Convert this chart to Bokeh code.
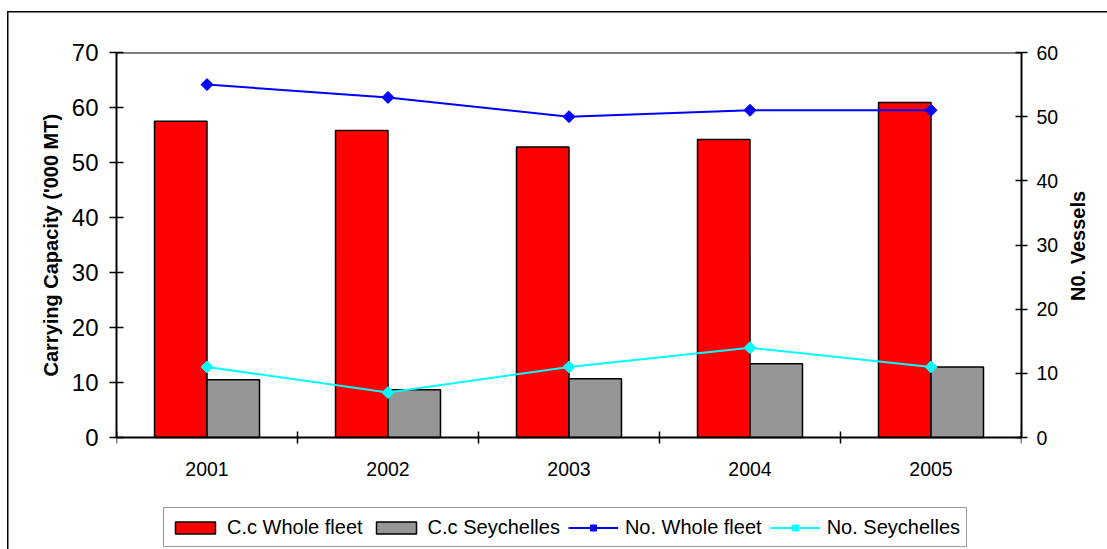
from bokeh.plotting import figure
from bokeh.models import (Range1d, LinearAxis, FixedTicker, Legend, LegendItem,
                          ColumnDataSource, Span, Title)
from bokeh.transform import dodge
from bokeh.embed import file_html
from bokeh.resources import INLINE
import numpy as np

# Fleet data by year
years = [2001, 2002, 2003, 2004, 2005]
cc_whole_fleet = [57.5, 55.8, 52.8, 54.2, 60.9]      # '000 MT
cc_seychelles = [10.5, 8.7, 10.7, 13.4, 12.8]        # '000 MT
no_whole_fleet = [55, 53, 50, 51, 51]                # vessels
no_seychelles = [11, 7, 11, 14, 11]                  # vessels

left_ticks = [0, 10, 20, 30, 40, 50, 60, 70]
right_ticks = [0, 10, 20, 30, 40, 50, 60]

src = ColumnDataSource(dict(year=years, ccw=cc_whole_fleet, ccs=cc_seychelles,
                            now=no_whole_fleet, nos=no_seychelles))

FONT = "Liberation Sans"
BAR_W = 0.29

# The frame runs down to the bottom of the canvas so that the legend can sit
# inside it; the value axes span 385 px from zero to their top tick.
FRAME_W, FRAME_H = 905, 497
AXIS_PX = 385.0
LEFT_TOP, RIGHT_TOP = 70, 60
left_start = LEFT_TOP - LEFT_TOP * FRAME_H / AXIS_PX
right_start = RIGHT_TOP - RIGHT_TOP * FRAME_H / AXIS_PX

p = figure(width=1107, height=549, frame_width=FRAME_W, frame_height=FRAME_H,
           output_backend="svg", toolbar_location=None,
           x_range=Range1d(years[0] - 0.5, years[-1] + 0.5),
           y_range=Range1d(left_start, LEFT_TOP),
           min_border_left=116, min_border_right=86, min_border_top=52,
           min_border_bottom=0)
# Chart area border: thin lines along the left and top edges, painted behind
# a transparent canvas border
p.border_fill_color = None
p.styles = {
    "background-color": "white",
    "background-image": "linear-gradient(#000, #000), linear-gradient(#000, #000)",
    "background-position": "7px 11px, 7px 11px",
    "background-size": "1.5px 100%, 100% 1.5px",
    "background-repeat": "no-repeat, no-repeat",
}

p.extra_y_ranges = {"vessels": Range1d(right_start, RIGHT_TOP)}
p.background_fill_color = "white"
p.outline_line_color = None
p.xgrid.visible = False
p.ygrid.visible = False

# Top edge of the plot area
p.add_layout(Span(location=LEFT_TOP, dimension="width", line_color="black", line_width=2))

# Bars: carrying capacity
r_red = p.vbar(x=dodge("year", -BAR_W / 2), top="ccw", width=BAR_W, source=src,
               fill_color="#FF0000", line_color="black", line_width=1.5)
r_gray = p.vbar(x=dodge("year", BAR_W / 2), top="ccs", width=BAR_W, source=src,
                fill_color="#969696", line_color="black", line_width=1.5)

# Lines: number of vessels on the right axis
l_blue = p.line("year", "now", source=src, line_color="#0000FF", line_width=2,
                y_range_name="vessels")
m_blue = p.scatter("year", "now", source=src, marker="square", angle=np.pi / 4,
                   size=8.5, fill_color="#0000FF", line_color="#0000FF",
                   y_range_name="vessels")
l_cyan = p.line("year", "nos", source=src, line_color="#00FFFF", line_width=2,
                y_range_name="vessels")
m_cyan = p.scatter("year", "nos", source=src, marker="square", angle=np.pi / 4,
                   size=8.5, fill_color="#00FFFF", line_color="#00FFFF",
                   y_range_name="vessels")

# Left axis (its title is a side-panel Title placed along the 0-70 span)
ya = p.yaxis[0]
ya.ticker = FixedTicker(ticks=left_ticks)
ya.bounds = (0, LEFT_TOP)
ya.major_label_text_font = FONT
ya.major_label_text_font_size = "24px"
ya.major_label_text_color = "black"
ya.major_label_standoff = 11
ya.major_tick_in = 7
ya.major_tick_out = 7
ya.major_tick_line_width = 1.5
ya.minor_tick_line_color = None
ya.axis_line_width = 2
ya.axis_line_color = "black"

left_title = Title(text="Carrying Capacity ('000 MT)", align="left",
                   offset=173, standoff=13,
                   text_font=FONT, text_font_size="20px", text_font_style="bold",
                   text_color="black")
p.add_layout(left_title, "left")

# Right axis
ra = LinearAxis(y_range_name="vessels", ticker=FixedTicker(ticks=right_ticks),
                bounds=(0, RIGHT_TOP))
ra.axis_label = "N0. Vessels"
ra.axis_label_orientation = np.pi / 2
ra.axis_label_text_font = FONT
ra.axis_label_text_font_style = "bold"
ra.axis_label_text_font_size = "20px"
ra.axis_label_text_color = "black"
ra.axis_label_standoff = 17
ra.major_label_text_font = FONT
ra.major_label_text_font_size = "19.5px"
ra.major_label_text_color = "black"
ra.major_label_standoff = 9
ra.major_tick_in = 6
ra.major_tick_out = 6
ra.major_tick_line_width = 1.5
ra.minor_tick_line_color = None
ra.axis_line_width = 2
ra.axis_line_color = "black"
p.add_layout(ra, "right")

# Bottom axis at zero: year labels at centres, tick marks between categories
xa = p.xaxis[0]
xa.fixed_location = 0
xa.ticker = FixedTicker(ticks=years, minor_ticks=[y - 0.5 for y in years] + [years[-1] + 0.5])
xa.major_tick_line_color = None
xa.major_tick_in = 0
xa.major_tick_out = 0
xa.minor_tick_in = 6
xa.minor_tick_out = 6
xa.minor_tick_line_width = 1.5
xa.minor_tick_line_color = "black"
xa.major_label_text_font = FONT
xa.major_label_text_font_size = "19.5px"
xa.major_label_text_color = "black"
xa.major_label_standoff = 18
xa.axis_line_width = 2
xa.axis_line_color = "black"

legend = Legend(items=[
    LegendItem(label="C.c Whole fleet", renderers=[r_red]),
    LegendItem(label="C.c Seychelles", renderers=[r_gray]),
    LegendItem(label="No. Whole fleet", renderers=[l_blue, m_blue]),
    LegendItem(label="No. Seychelles", renderers=[l_cyan, m_cyan]),
], orientation="horizontal", location=(47, 2))
legend.label_text_font = FONT
legend.label_text_font_size = "20px"
legend.label_text_color = "black"
legend.glyph_width = 50
legend.glyph_height = 15
legend.label_standoff = 7
legend.spacing = 8
legend.padding = 6
legend.margin = 0
legend.label_height = 26
legend.border_line_color = "#333333"
legend.border_line_width = 1
legend.background_fill_color = "white"
legend.background_fill_alpha = 1
p.add_layout(legend, "center")

open("out.html", "w").write(file_html(p, INLINE))
